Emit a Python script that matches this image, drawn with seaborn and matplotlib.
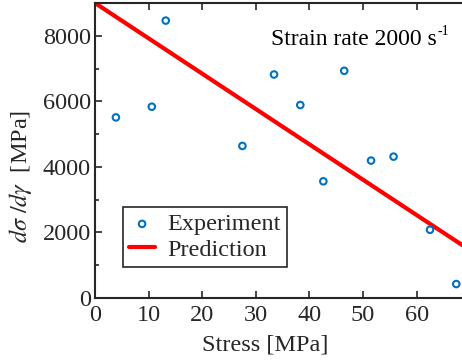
import matplotlib
matplotlib.use("Agg")
import matplotlib.pyplot as plt
import seaborn as sns
import pandas as pd
from matplotlib.ticker import MultipleLocator

# Data
exp_stress = [3.9, 10.6, 13.2, 27.5, 33.4, 38.3, 42.6, 46.5, 51.5, 55.7, 62.5, 67.4]
exp_rate = [5510, 5836, 8463, 4639, 6819, 5887, 3560, 6932, 4192, 4313, 2082, 426]
pred_stress = [0.0, 68.5]
pred_rate = [9000, 1615]
annotation_main = "Strain rate 2000 s"
annotation_sup = "-1"

sns.set_theme(style="white")
plt.rcParams['font.family'] = ['Liberation Serif', 'DejaVu Serif']
plt.rcParams['mathtext.fontset'] = 'stix'

exp_df = pd.DataFrame({"stress": exp_stress, "rate": exp_rate})
pred_df = pd.DataFrame({"stress": pred_stress, "rate": pred_rate})

fig = plt.figure(figsize=(4.62, 3.64), dpi=100)
ax = fig.add_axes([95/462, 1 - 298/364, (462 - 95)/462, (298 - 3)/364])

tc = "#262626"
fs = 17.5
sns.scatterplot(data=exp_df, x="stress", y="rate", ax=ax, marker="o", s=22,
                facecolor="none", edgecolor="#0072BD", linewidth=1.5,
                label="Experiment", zorder=3)
sns.lineplot(data=pred_df, x="stress", y="rate", ax=ax, color="#FF0000",
             linewidth=3, label="Prediction", zorder=2)

ax.set_xlim(0, 68.47)
ax.set_ylim(0, 9000)
ax.set_xticks([0, 10, 20, 30, 40, 50, 60])
ax.set_yticks([0, 2000, 4000, 6000, 8000])
ax.yaxis.set_minor_locator(MultipleLocator(1000))
ax.tick_params(axis="both", which="both", direction="in", colors=tc,
               labelsize=fs, top=True, left=True, bottom=True, right=False)
ax.tick_params(which="major", length=5, width=1.2)
ax.tick_params(which="minor", length=3, width=1.2)
ax.tick_params(axis="x", which="minor", top=False, bottom=False)
ax.tick_params(axis="y", pad=3)
ax.tick_params(axis="x", pad=5)
for side in ["left", "bottom", "top"]:
    ax.spines[side].set_color(tc)
    ax.spines[side].set_linewidth(1.5)
ax.spines["right"].set_visible(False)

ax.set_xlabel("Stress [MPa]", fontsize=fs, color=tc)
ax.xaxis.set_label_coords((265 - 95) / 367, -0.125)
ax.set_ylabel(r"$d\sigma\ /d\gamma$  [MPa]", fontsize=fs, color=tc)
ax.yaxis.set_label_coords((34 - 95) / 367, (298 - 176) / 295)

t1 = ax.text(0.93, 0.877, annotation_main, transform=ax.transAxes, ha="right",
             va="center", fontsize=17, color="black")
ax.annotate(annotation_sup, xy=(1.0, 0.55), xycoords=t1, ha="left",
            va="bottom", fontsize=10, color="black", xytext=(1, 0),
            textcoords="offset points")

leg = ax.legend(loc="lower left", bbox_to_anchor=(28/367, 31/295),
                fontsize=fs, frameon=True, fancybox=False, framealpha=1,
                edgecolor="#262626", handlelength=1.07, handletextpad=0.5,
                borderpad=0.25, labelspacing=0.15, borderaxespad=0)
leg.get_frame().set_linewidth(1.2)

fig.savefig("out.png", dpi=100)
